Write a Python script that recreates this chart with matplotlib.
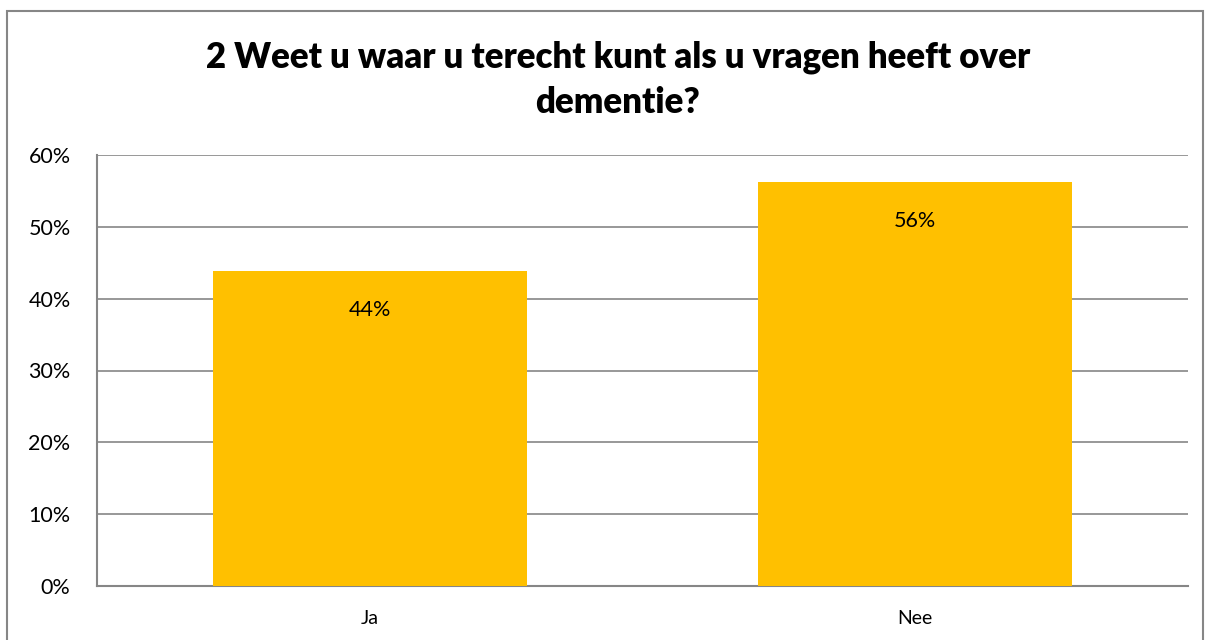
import numpy as np
import matplotlib.pyplot as plt
from matplotlib.patches import Rectangle
from matplotlib.ticker import PercentFormatter

categories = ['Ja', 'Nee']
values = [43.8, 56.2]
value_labels = ['44%', '56%']
yticks = [0, 10, 20, 30, 40, 50, 60]

plt.rcParams['font.family'] = ['Lato', 'DejaVu Sans']

fig = plt.figure(figsize=(12.12, 6.4), dpi=100)
ax = fig.add_axes([97 / 1212, 1 - 586 / 640, (1188 - 97) / 1212, (586 - 155) / 640])

x = np.arange(len(categories))
bars = ax.bar(x, values, width=0.576, color='#FFC000', zorder=3)

# labels inside the bars, near the top
for xi, v, lab in zip(x, values, value_labels):
    ax.text(xi, v - 5.4, lab, ha='center', va='center', fontsize=15.5, color='#000000', zorder=4)

ax.set_xlim(-0.5, 1.5)
ax.set_ylim(0, 60)
ax.set_yticks(yticks)
ax.yaxis.set_major_formatter(PercentFormatter(decimals=0))
ax.set_xticks(x)
ax.set_xticklabels(categories)
ax.tick_params(axis='y', length=0, pad=19, labelsize=15.5)
ax.tick_params(axis='x', length=0, pad=17, labelsize=14)
ax.grid(axis='y', color='#868686', linewidth=1.2, zorder=0)

for side in ['top', 'right']:
    ax.spines[side].set_visible(False)
for side in ['left', 'bottom']:
    ax.spines[side].set_color('#868686')
    ax.spines[side].set_linewidth(1.5)

fig.text(618 / 1212, 1 - 80 / 640, '2 Weet u waar u terecht kunt als u vragen heeft over\ndementie?',
         ha='center', va='center', fontsize=25, fontweight='heavy', linespacing=1.45)

# outer chart border
fig.patches.append(Rectangle((7 / 1212, -0.05), (1203 - 7) / 1212, 1.05 - 11 / 640,
                             transform=fig.transFigure, fill=False, edgecolor='#868686',
                             linewidth=1.5, clip_on=False))

fig.savefig('out.png', dpi=100)
